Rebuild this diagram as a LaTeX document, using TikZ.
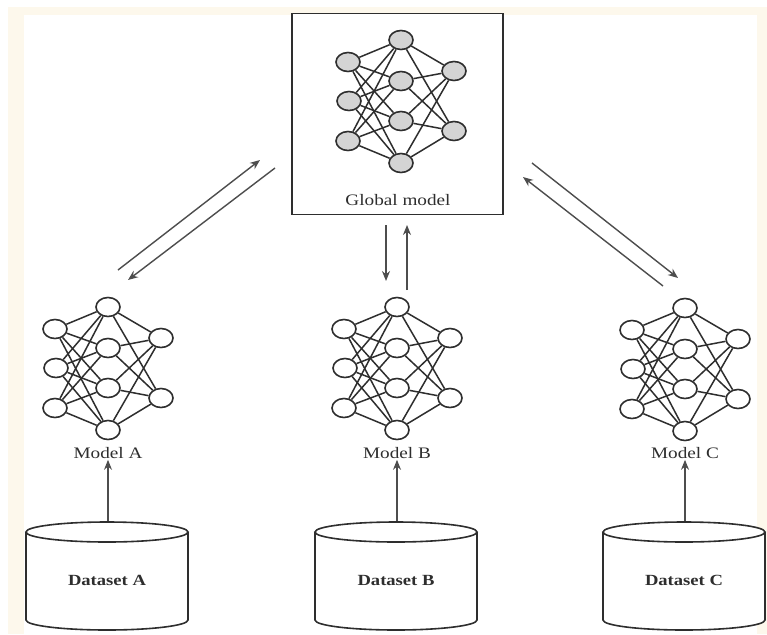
\documentclass[tikz,border=0pt]{standalone}
\usepackage{fontspec}
\usepackage{graphicx}
\setmainfont{Liberation Serif}
\usetikzlibrary{arrows.meta,shapes.geometric}

\definecolor{ink}{HTML}{2E2E2E}
\definecolor{cream}{HTML}{FDF8EC}
\definecolor{unitgray}{HTML}{D4D4D4}

% slightly widened lettering
\newcommand\widetext[1]{\scalebox{1.2}[1]{#1}}

\tikzset{
  neuron/.style={ellipse, draw=ink, line width=1.6pt, fill=white,
    minimum width=24pt, minimum height=19pt, inner sep=0pt},
  link/.style={draw=ink, line width=1.5pt},
  flow/.style={draw=ink!85, line width=1.4pt, -{Stealth[length=10pt,width=8pt]}},
  lbl/.style={text=ink, inner sep=1pt, font=\fontsize{16}{18}\selectfont},
  dlbl/.style={text=ink, inner sep=1pt, font=\fontsize{15.5}{18}\selectfont\bfseries},
  % three-layer network: 3 inputs, 4 hidden units, 2 outputs
  ann/.pic={
    \node[neuron] (-l1) at (-53,22) {};
    \node[neuron] (-l2) at (-52,61) {};
    \node[neuron] (-l3) at (-53,101) {};
    \node[neuron] (-m1) at (0,0) {};
    \node[neuron] (-m2) at (0,41) {};
    \node[neuron] (-m3) at (0,81) {};
    \node[neuron] (-m4) at (0,123) {};
    \node[neuron] (-r1) at (53,31) {};
    \node[neuron] (-r2) at (53,91) {};
    \foreach \i in {1,2,3} \foreach \j in {1,2,3,4} \draw[link] (-l\i) -- (-m\j);
    \foreach \j in {1,2,3,4} \foreach \k in {1,2} \draw[link] (-m\j) -- (-r\k);
  },
  % database drum, origin at the centre of its top ellipse
  drum/.pic={
    \draw[draw=ink, line width=1.6pt, fill=white]
      (-81,0) -- (-81,88) arc[start angle=180, end angle=0, x radius=81, y radius=10] -- (81,0);
    \draw[draw=ink, line width=1.6pt, fill=white] (0,0) ellipse [x radius=81, y radius=10];
  }
}

\begin{document}
\begin{tikzpicture}[x=1pt, y=-1pt]
  \useasboundingbox (0,0) rectangle (767,634);
  % page frame
  \fill[cream] (8,7) rectangle (767,634);
  \fill[white] (24,15) rectangle (757,634);

  % global model
  \node[draw=ink, line width=1.6pt, fill=white, minimum width=211pt, minimum height=201pt,
        inner sep=0pt] (gbox) at (397.5,114) {};
  \pic[neuron/.append style={fill=unitgray}] (g) at (401,40) {ann};
  \node[lbl] (glabel) at (398,200) {\widetext{Global model}};

  % local models
  \pic (na) at (108,307) {ann};
  \pic (nb) at (397,307) {ann};
  \pic (nc) at (685,308) {ann};
  \node[lbl] (mA) at (108,453) {\widetext{Model A}};
  \node[lbl] (mB) at (397,453) {\widetext{Model B}};
  \node[lbl] (mC) at (685,453) {\widetext{Model C}};

  % datasets
  \pic (da) at (107,532) {drum};
  \pic (db) at (396,532) {drum};
  \pic (dc) at (684,532) {drum};
  \node[dlbl] (dA) at (107,580) {\widetext{Dataset A}};
  \node[dlbl] (dB) at (396,580) {\widetext{Dataset B}};
  \node[dlbl] (dC) at (684,580) {\widetext{Dataset C}};
  \coordinate (topA) at (108,521);
  \coordinate (topB) at (397,521);
  \coordinate (topC) at (685,521);

  % data feeds the local models
  \draw[flow] (topA) -- (mA.south);
  \draw[flow] (topB) -- (mB.south);
  \draw[flow] (topC) -- (mC.south);

  % exchange between global and local models
  \coordinate (a1s) at (118,270); \coordinate (a1e) at (260,160);
  \coordinate (a2s) at (275,168); \coordinate (a2e) at (128,280);
  \coordinate (b1s) at (386,225); \coordinate (b1e) at (386,281);
  \coordinate (b2s) at (407,290); \coordinate (b2e) at (407,225);
  \coordinate (c1s) at (532,163); \coordinate (c1e) at (678,278);
  \coordinate (c2s) at (663,286); \coordinate (c2e) at (523,177);
  \draw[flow] (a1s) -- (a1e);
  \draw[flow] (a2s) -- (a2e);
  \draw[flow] (b1s) -- (b1e);
  \draw[flow] (b2s) -- (b2e);
  \draw[flow] (c1s) -- (c1e);
  \draw[flow] (c2s) -- (c2e);
\end{tikzpicture}
\end{document}
